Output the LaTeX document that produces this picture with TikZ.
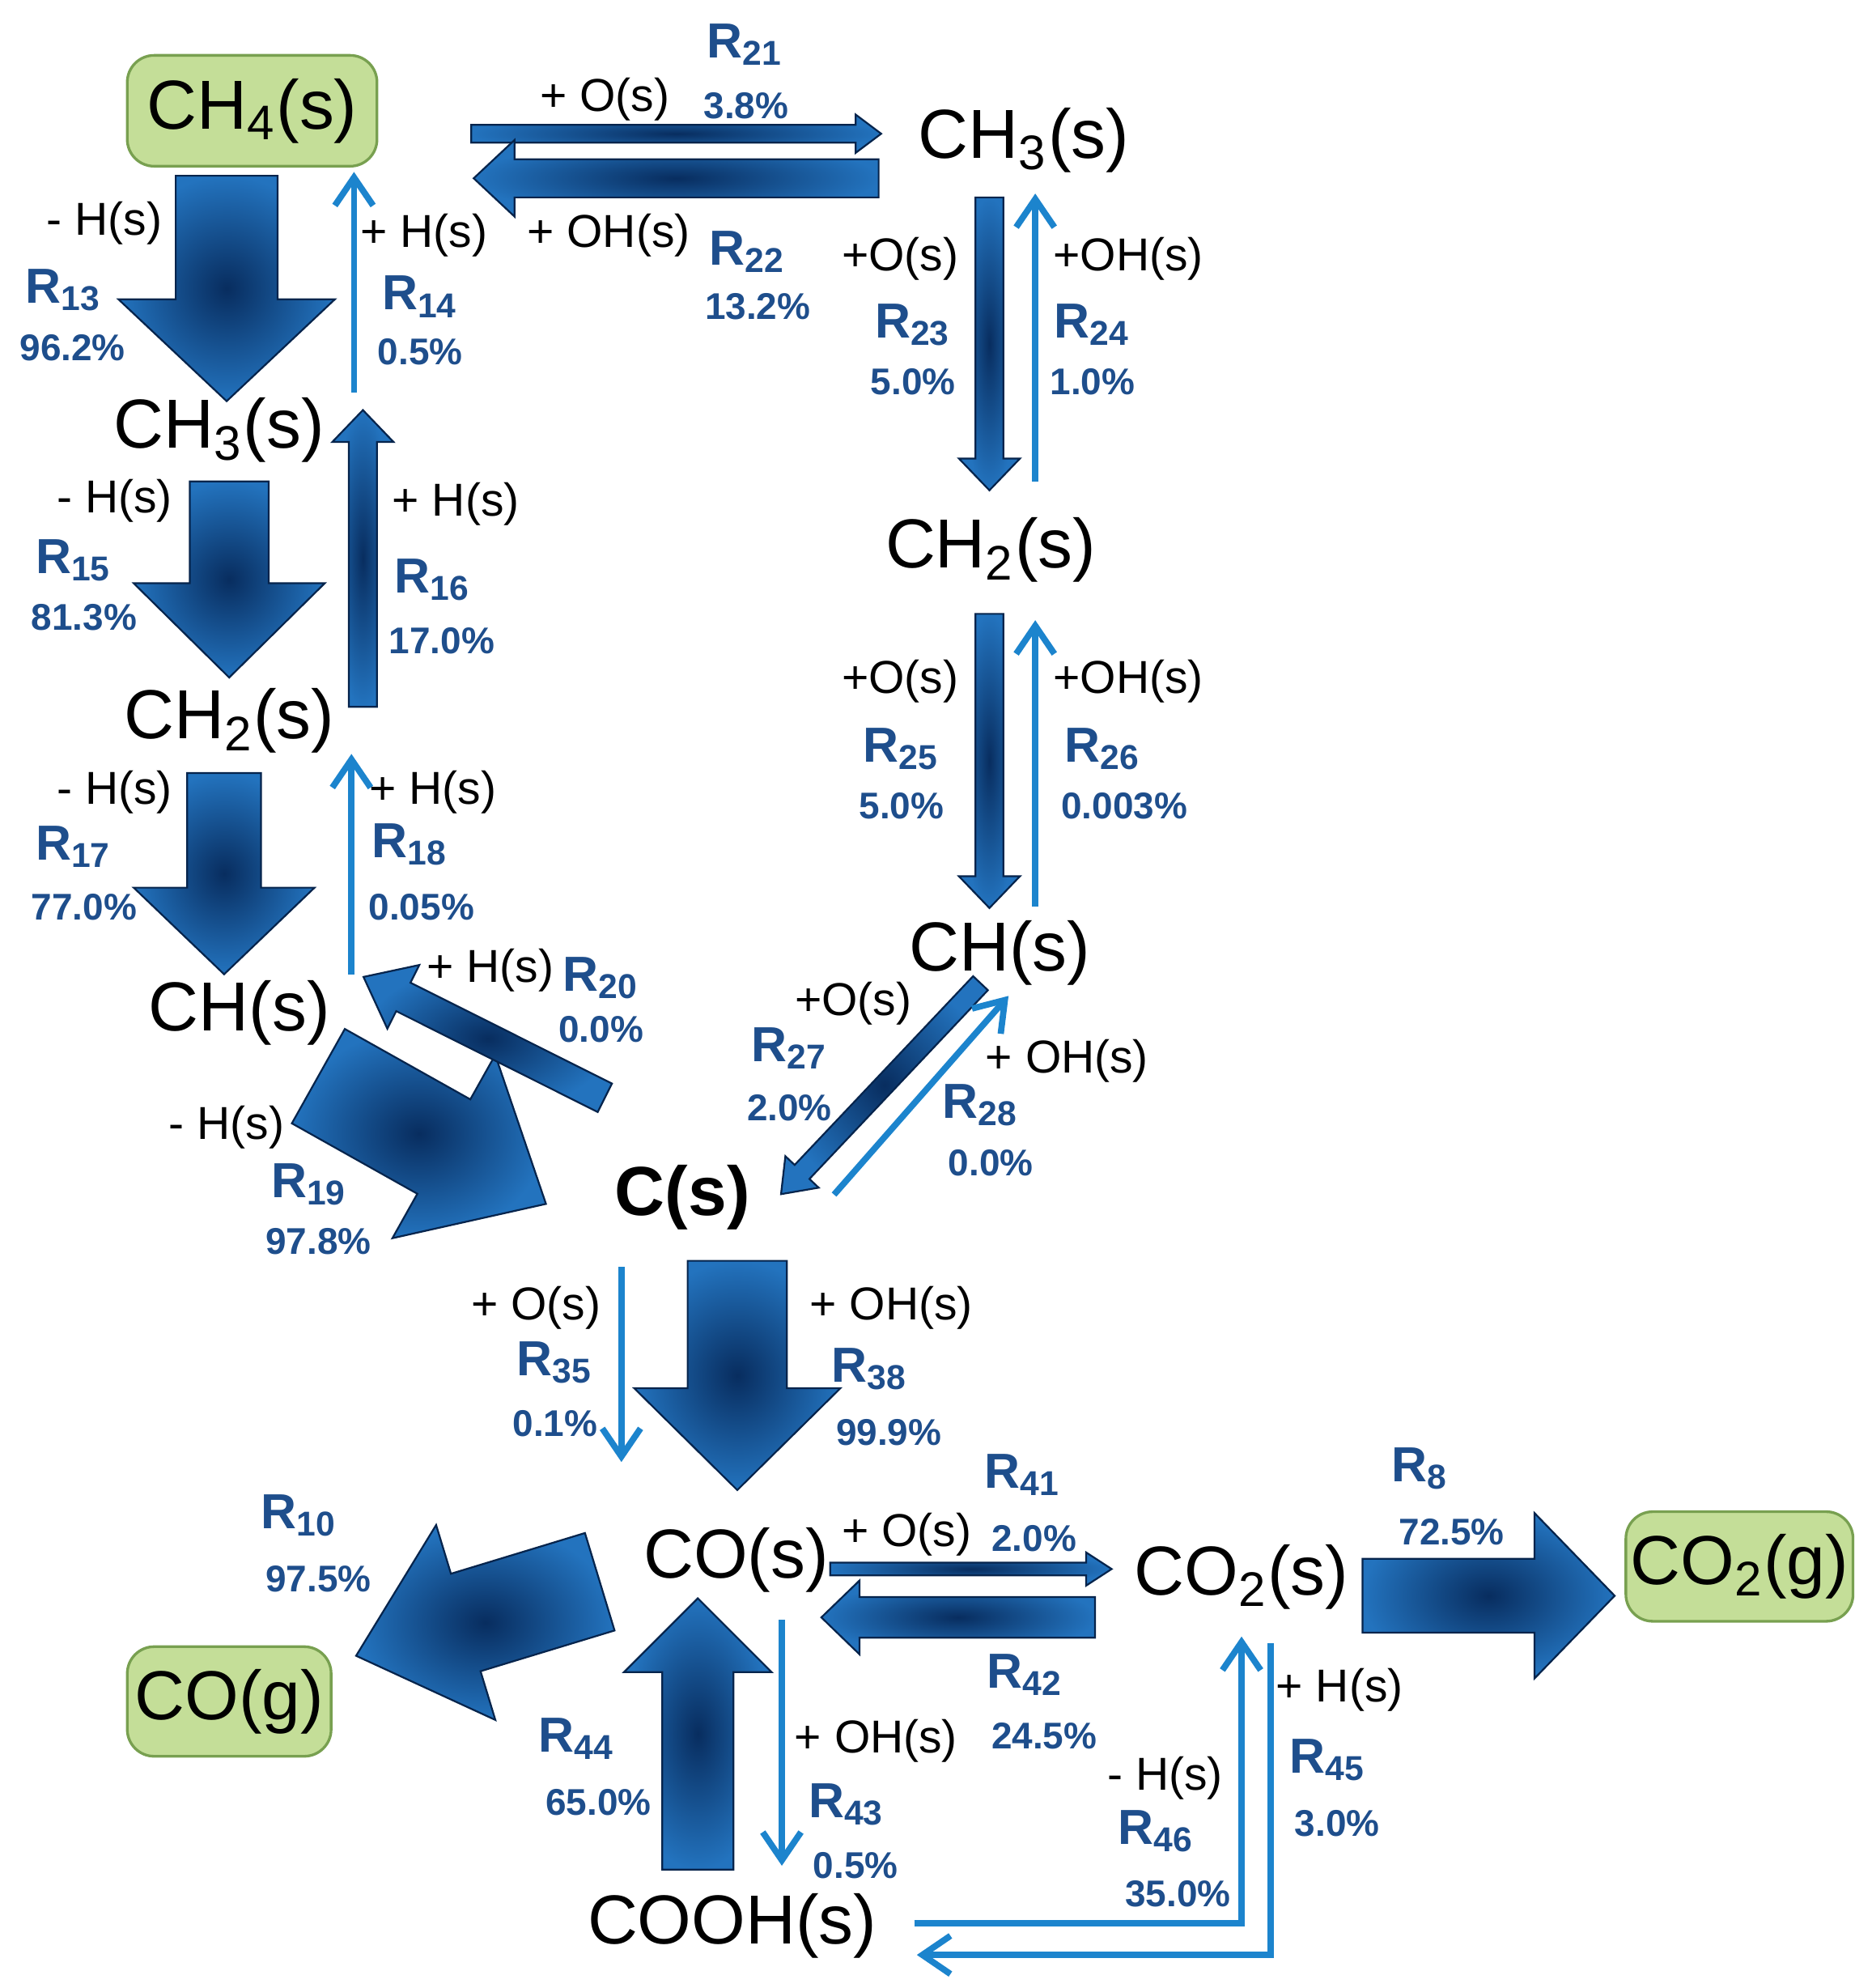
\documentclass[tikz,border=0pt]{standalone}
\usepackage{fontspec}
\setmainfont{Liberation Sans}
\usetikzlibrary{arrows.meta}
\definecolor{fin}{RGB}{8,45,95}
\definecolor{fout}{RGB}{35,115,190}
\definecolor{thinc}{RGB}{28,132,205}
\definecolor{lblue}{RGB}{30,78,140}
\definecolor{boxg}{RGB}{196,222,152}
\definecolor{boxe}{RGB}{120,160,80}
\newcommand\fatarr[6]{\begin{scope}[shift={(#1)},rotate=-#2]
\shade[inner color=fin,outer color=fout,draw=fin!80!black,line width=0.4pt]
(0,-#4/2) -- (#3-#6,-#4/2) -- (#3-#6,-#5/2) -- (#3,0) -- (#3-#6,#5/2) -- (#3-#6,#4/2) -- (0,#4/2) -- cycle;
\end{scope}}
\tikzset{
 spec/.style={font=\fontsize{15.5}{18}\selectfont,inner sep=1pt},
 gbox/.style={spec,draw=boxe,fill=boxg,rounded corners=6pt,line width=0.6pt},
 rl/.style={font=\fontsize{11}{13}\selectfont\bfseries,text=lblue,inner sep=0pt},
 pc/.style={font=\fontsize{8.3}{10}\selectfont\bfseries,text=lblue,inner sep=0pt},
 sp/.style={font=\fontsize{10.3}{12}\selectfont,inner sep=0pt},
 tarr/.style={draw=thinc,line width=1.4pt,-{Straight Barb[length=2.2mm,width=3mm]}},
}
\begin{document}
\begin{tikzpicture}[x=0.01cm,y=-0.01cm]
\useasboundingbox (0,0) rectangle (1470,1561);
% species
\node[gbox,minimum width=1.96cm,minimum height=0.87cm] (ch4) at (198,87) {CH\textsubscript{4}(s)};
\node[spec] (ch3r) at (804,110) {CH\textsubscript{3}(s)};
\node[spec] (ch3l) at (172,338) {CH\textsubscript{3}(s)};
\node[spec] (ch2l) at (180,566) {CH\textsubscript{2}(s)};
\node[spec] (chl) at (188,795) {CH(s)};
\node[spec] (ch2r) at (778,432) {CH\textsubscript{2}(s)};
\node[spec] (chr) at (785,748) {CH(s)};
\node[spec,font=\fontsize{15.5}{18}\selectfont\bfseries] (c) at (536,940) {C(s)};
\node[spec] (co) at (578,1225) {CO(s)};
\node[spec] (co2) at (975,1238) {CO\textsubscript{2}(s)};
\node[gbox,minimum width=1.77cm,minimum height=0.86cm] (co2g) at (1366,1230) {CO\textsubscript{2}(g)};
\node[gbox,minimum width=1.6cm,minimum height=0.86cm] (cog) at (180,1336) {CO(g)};
\node[spec] (cooh) at (575,1512) {COOH(s)};
% fat / medium arrows
\fatarr{178,138}{90}{177}{80}{170}{80}
\fatarr{180,378}{90}{154}{62}{150}{74}
\fatarr{285,555}{-90}{233}{22}{48}{25}
\fatarr{176,607}{90}{158}{58}{142}{68}
\fatarr{250,845}{29.3}{205}{85}{165}{92}
\fatarr{475,862}{206.6}{212}{25}{56}{35}
\fatarr{370,105}{0}{322}{14}{30}{20}
\fatarr{690,140}{180}{318}{30}{60}{32}
\fatarr{777,155}{90}{230}{22}{48}{25}
\fatarr{777,482}{90}{231}{22}{48}{25}
\fatarr{770,772}{133.4}{228}{16}{36}{24}
\fatarr{579,990}{90}{180}{78}{162}{80}
\fatarr{652,1232}{0}{221}{10}{26}{20}
\fatarr{860,1270}{180}{215}{32}{58}{30}
\fatarr{548,1468}{-90}{213}{56}{116}{58}
\fatarr{471,1242}{163.1}{200}{80}{160}{90}
\fatarr{1070,1253}{0}{198}{58}{130}{63}
% thin arrows
\draw[tarr] (278,308) -- (278,135);
\draw[tarr] (276,765) -- (276,592);
\draw[tarr] (813,378) -- (813,152);
\draw[tarr] (813,712) -- (813,487);
\draw[tarr] (655,938) -- (792,782);
\draw[tarr] (488,995) -- (488,1148);
\draw[tarr] (614,1272) -- (614,1465);
\draw[tarr] (718,1510) -- (975,1510) -- (975,1285);
\draw[tarr] (998,1290) -- (998,1535) -- (720,1535);
% labels
\node[sp] at (475,78) {+ O(s)}; \node[rl] at (585,35) {R\textsubscript{21}}; \node[pc] at (586,83) {3.8\%};
\node[sp] at (478,185) {+ OH(s)}; \node[rl] at (587,198) {R\textsubscript{22}}; \node[pc] at (595,241) {13.2\%};
\node[sp] at (82,175) {- H(s)}; \node[rl] at (50,228) {R\textsubscript{13}}; \node[pc] at (57,273) {96.2\%};
\node[sp] at (333,185) {+ H(s)}; \node[rl] at (330,233) {R\textsubscript{14}}; \node[pc] at (330,276) {0.5\%};
\node[sp] at (707,203) {+O(s)}; \node[rl] at (717,255) {R\textsubscript{23}}; \node[pc] at (717,300) {5.0\%};
\node[sp] at (886,203) {+OH(s)}; \node[rl] at (858,255) {R\textsubscript{24}}; \node[pc] at (858,300) {1.0\%};
\node[sp] at (90,393) {- H(s)}; \node[rl] at (58,440) {R\textsubscript{15}}; \node[pc] at (66,485) {81.3\%};
\node[sp] at (358,396) {+ H(s)}; \node[rl] at (340,455) {R\textsubscript{16}}; \node[pc] at (347,503) {17.0\%};
\node[sp] at (707,535) {+O(s)}; \node[rl] at (708,588) {R\textsubscript{25}}; \node[pc] at (708,633) {5.0\%};
\node[sp] at (886,535) {+OH(s)}; \node[rl] at (866,588) {R\textsubscript{26}}; \node[pc] at (883,633) {0.003\%};
\node[sp] at (90,622) {- H(s)}; \node[rl] at (58,665) {R\textsubscript{17}}; \node[pc] at (66,712) {77.0\%};
\node[sp] at (340,622) {+ H(s)}; \node[rl] at (322,663) {R\textsubscript{18}}; \node[pc] at (331,712) {0.05\%};
\node[sp] at (385,762) {+ H(s)}; \node[rl] at (472,768) {R\textsubscript{20}}; \node[pc] at (472,808) {0.0\%};
\node[sp] at (670,788) {+O(s)}; \node[rl] at (620,823) {R\textsubscript{27}}; \node[pc] at (620,870) {2.0\%};
\node[sp] at (838,833) {+ OH(s)}; \node[rl] at (770,868) {R\textsubscript{28}}; \node[pc] at (778,913) {0.0\%};
\node[sp] at (178,885) {- H(s)}; \node[rl] at (243,930) {R\textsubscript{19}}; \node[pc] at (250,975) {97.8\%};
\node[sp] at (421,1027) {+ O(s)}; \node[rl] at (436,1070) {R\textsubscript{35}}; \node[pc] at (436,1118) {0.1\%};
\node[sp] at (700,1027) {+ OH(s)}; \node[rl] at (683,1075) {R\textsubscript{38}}; \node[pc] at (698,1125) {99.9\%};
\node[rl] at (235,1190) {R\textsubscript{10}}; \node[pc] at (250,1240) {97.5\%};
\node[rl] at (803,1158) {R\textsubscript{41}}; \node[sp] at (712,1205) {+ O(s)}; \node[pc] at (812,1208) {2.0\%};
\node[rl] at (1115,1153) {R\textsubscript{8}}; \node[pc] at (1140,1203) {72.5\%};
\node[rl] at (805,1315) {R\textsubscript{42}}; \node[pc] at (820,1363) {24.5\%};
\node[rl] at (453,1365) {R\textsubscript{44}}; \node[pc] at (470,1415) {65.0\%};
\node[sp] at (688,1367) {+ OH(s)}; \node[rl] at (665,1417) {R\textsubscript{43}}; \node[pc] at (672,1465) {0.5\%};
\node[sp] at (915,1396) {- H(s)}; \node[rl] at (908,1438) {R\textsubscript{46}}; \node[pc] at (925,1487) {35.0\%};
\node[sp] at (1052,1327) {+ H(s)}; \node[rl] at (1043,1382) {R\textsubscript{45}}; \node[pc] at (1050,1432) {3.0\%};
\end{tikzpicture}
\end{document}
